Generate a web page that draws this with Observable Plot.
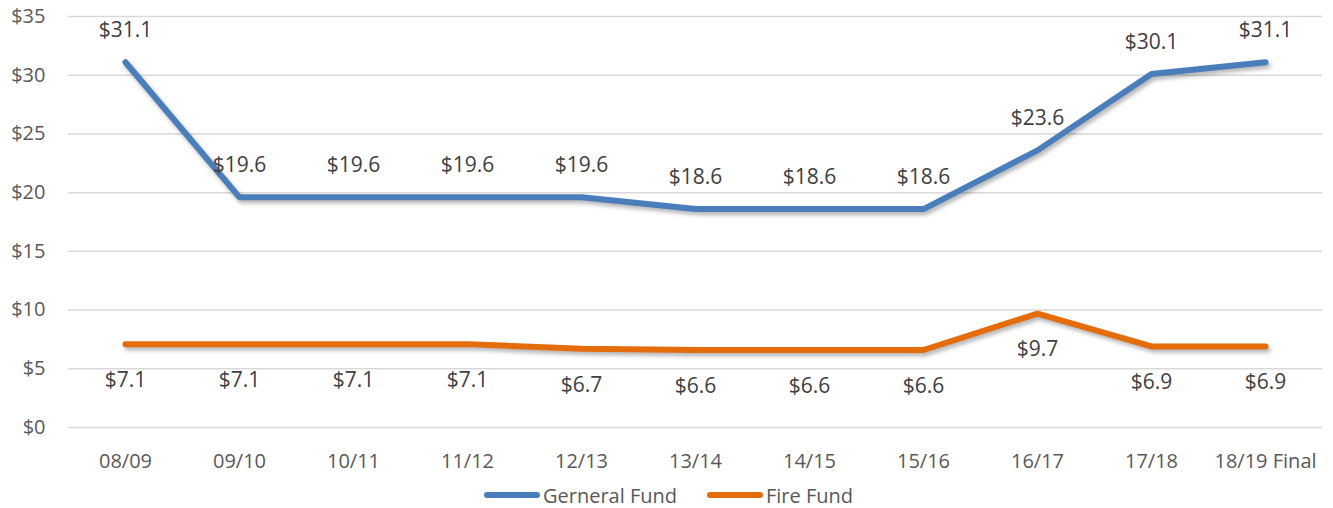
<!DOCTYPE html>
<html>
<head>
<meta charset="utf-8">
<script src="https://cdn.jsdelivr.net/npm/d3@7"></script>
<script src="https://cdn.jsdelivr.net/npm/@observablehq/plot@0.6"></script>
<style>
  body { margin: 0; background: #fff; font-family: "Open Sans", sans-serif; }
  #chart svg { display: block; }
  .series path { filter: drop-shadow(2px 3px 2px rgba(0,0,0,0.3)); }
  #legend { display: flex; justify-content: center; align-items: center; gap: 30px; height: 34px; color: #595959; font-size: 20px; margin-left: 4px; }
  #legend .item { display: flex; align-items: center; }
  #legend .swatch { width: 56px; height: 6px; border-radius: 3px; margin-right: 3px; }
</style>
</head>
<body>
<div id="chart"></div>
<div id="legend"></div>
<script>
const years = ["08/09","09/10","10/11","11/12","12/13","13/14","14/15","15/16","16/17","17/18","18/19 Final"];
const generalFund = [31.1, 19.6, 19.6, 19.6, 19.6, 18.6, 18.6, 18.6, 23.6, 30.1, 31.1];
const fireFund = [7.1, 7.1, 7.1, 7.1, 6.7, 6.6, 6.6, 6.6, 9.7, 6.9, 6.9];
const seriesNames = ["Gerneral Fund", "Fire Fund"];
const seriesColors = ["#4a7ebb", "#e46c0a"];
const yTicks = [0, 5, 10, 15, 20, 25, 30, 35];

const data = [
  ...years.map((y, i) => ({year: y, value: generalFund[i], series: seriesNames[0]})),
  ...years.map((y, i) => ({year: y, value: fireFund[i], series: seriesNames[1]}))
];
const gen = data.filter(d => d.series === seriesNames[0]);
const fire = data.filter(d => d.series === seriesNames[1]);

const chart = Plot.plot({
  width: 1333,
  height: 478,
  marginTop: 16,
  marginBottom: 51,
  marginLeft: 68,
  marginRight: 11,
  style: {fontFamily: "'Open Sans', sans-serif", fontSize: "20px", color: "#595959", background: "#fff", overflow: "visible"},
  x: {type: "point", domain: years, padding: 0.5, label: null, tickSize: 0, tickPadding: 26},
  y: {domain: [0, 35], ticks: yTicks, label: null, tickSize: 0, tickPadding: 23, tickFormat: d => "$" + d},
  color: {domain: seriesNames, range: seriesColors},
  marks: [
    Plot.gridY(yTicks, {stroke: "#d9d9d9", strokeOpacity: 1, strokeWidth: 1.5}),
    Plot.axisX({tickSize: 0, tickPadding: 26, fontSize: 20}),
    Plot.axisY({ticks: yTicks, tickSize: 0, tickPadding: 23, tickFormat: d => "$" + d, fontSize: 20}),
    Plot.line(data, {x: "year", y: "value", z: "series", stroke: "series", strokeWidth: 6, strokeLinecap: "round", strokeLinejoin: "miter", className: "series"}),
    Plot.text(gen, {x: "year", y: "value", text: d => "$" + d.value.toFixed(1), dy: -32, fill: "#404040", fontSize: 21}),
    Plot.text(fire, {x: "year", y: "value", text: d => "$" + d.value.toFixed(1), dy: 36, fill: "#404040", fontSize: 21})
  ]
});
document.getElementById("chart").appendChild(chart);

const legend = document.getElementById("legend");
seriesNames.forEach((name, i) => {
  const item = document.createElement("div");
  item.className = "item";
  const sw = document.createElement("div");
  sw.className = "swatch";
  sw.style.background = seriesColors[i];
  const label = document.createElement("span");
  label.textContent = name;
  item.appendChild(sw);
  item.appendChild(label);
  legend.appendChild(item);
});
</script>
</body>
</html>
